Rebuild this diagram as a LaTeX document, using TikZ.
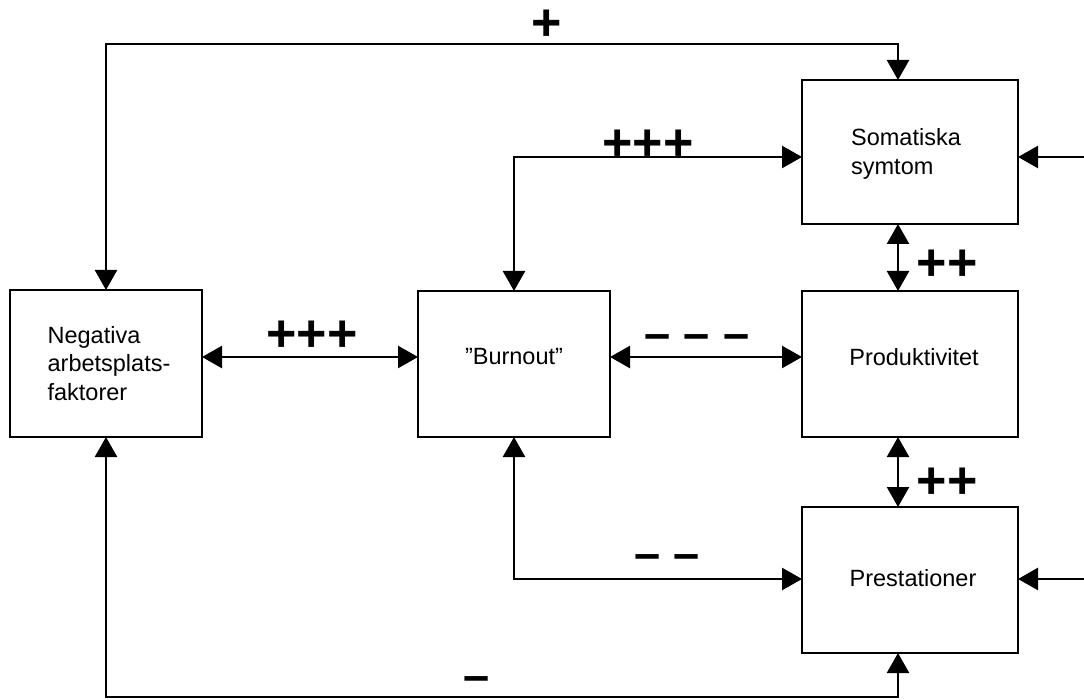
\documentclass[tikz,border=0pt]{standalone}
\usepackage{fontspec}
\setmainfont{Liberation Sans}
\usetikzlibrary{arrows.meta,calc}
\begin{document}
\begin{tikzpicture}[x=1pt,y=-1pt,
  box/.style={draw, line width=2.5pt, minimum width=192pt, minimum height=147pt, inner sep=0pt, outer sep=0pt},
  wbox/.style={box, minimum width=216pt},
  txt/.style={font=\fontsize{23.5}{28.5}\selectfont, align=left, inner sep=0pt},
  tip/.tip={Triangle[length=20pt,width=22pt]},
  conn/.style={line width=2.5pt, {tip}-{tip}},
  inarrow/.style={line width=2.5pt, -{tip}},
  sign/.style={font=\fontsize{52}{52}\selectfont\bfseries, inner sep=0pt, anchor=base},
  dsign/.style={font=\fontsize{47}{47}\selectfont\bfseries, inner sep=0pt, anchor=base}
]
\fill[white] (0,0) rectangle (1084,700);
\useasboundingbox (0,0) rectangle (1084,700);

% boxes
\node[box] (neg) at (106,363.5) {};
\node[box, minimum height=146pt] (bur) at (514,364) {};
\node[wbox, minimum height=144pt] (som) at (910,152) {};
\node[wbox, minimum height=146pt] (prod) at (910,364) {};
\node[wbox, minimum height=146pt] (pres) at (910,580) {};

% guide coordinates
\coordinate (rtop) at (0,44);
\coordinate (r1) at (0,157);
\coordinate (r2) at (0,357);
\coordinate (r3) at (0,579);
\coordinate (rbot) at (0,697);
\coordinate (cright) at (898,0);
\coordinate (edge) at (1084,0);

% texts
\node[txt] (negT) at ($(neg.center)+(3,0)$) {Negativa\\arbetsplats-\\faktorer};
\node[txt] (somT) at ($(som.center)+(-4,2)$) {Somatiska\\symtom};
\node[txt, anchor=base] (burT) at ($(bur.center |- r2)+(0,8)$) {”Burnout”};
\node[txt, anchor=base] (prodT) at ($(prod.center |- r2)+(4,9)$) {Produktivitet};
\node[txt, anchor=base] (presT) at ($(pres.center |- r3)+(3,7)$) {Prestationer};

% connectors
\draw[conn] (neg.north) -- (neg.north |- rtop) -| (som.north -| cright);
\draw[conn] (bur.north) |- (som.west |- r1);
\draw[conn] (neg.east |- r2) -- (bur.west |- r2);
\draw[conn] (bur.east |- r2) -- (prod.west |- r2);
\draw[conn] (som.south -| cright) -- (prod.north -| cright);
\draw[conn] (prod.south -| cright) -- (pres.north -| cright);
\draw[conn] (bur.south) |- (pres.west |- r3);
\draw[conn] (neg.south) -- (neg.south |- rbot) -| (pres.south -| cright);
\draw[inarrow] (edge |- r1) -- (som.east |- r1);
\draw[inarrow] (edge |- r3) -- (pres.east |- r3);

% signs
\node[sign] (l1) at (547,41) {+};
\node[sign] (l2) at (648,161) {+++};
\node[sign] (l3) at (312,352) {+++};
\node[sign] (l4) at (947,281) {++};
\node[sign] (l5) at (947,498) {++};
\node[dsign] (l6) at (697,350) {– – –};
\node[dsign] (l7) at (667,569) {– –};
\node[dsign] (l8) at (477,691) {–};
\end{tikzpicture}
\end{document}
